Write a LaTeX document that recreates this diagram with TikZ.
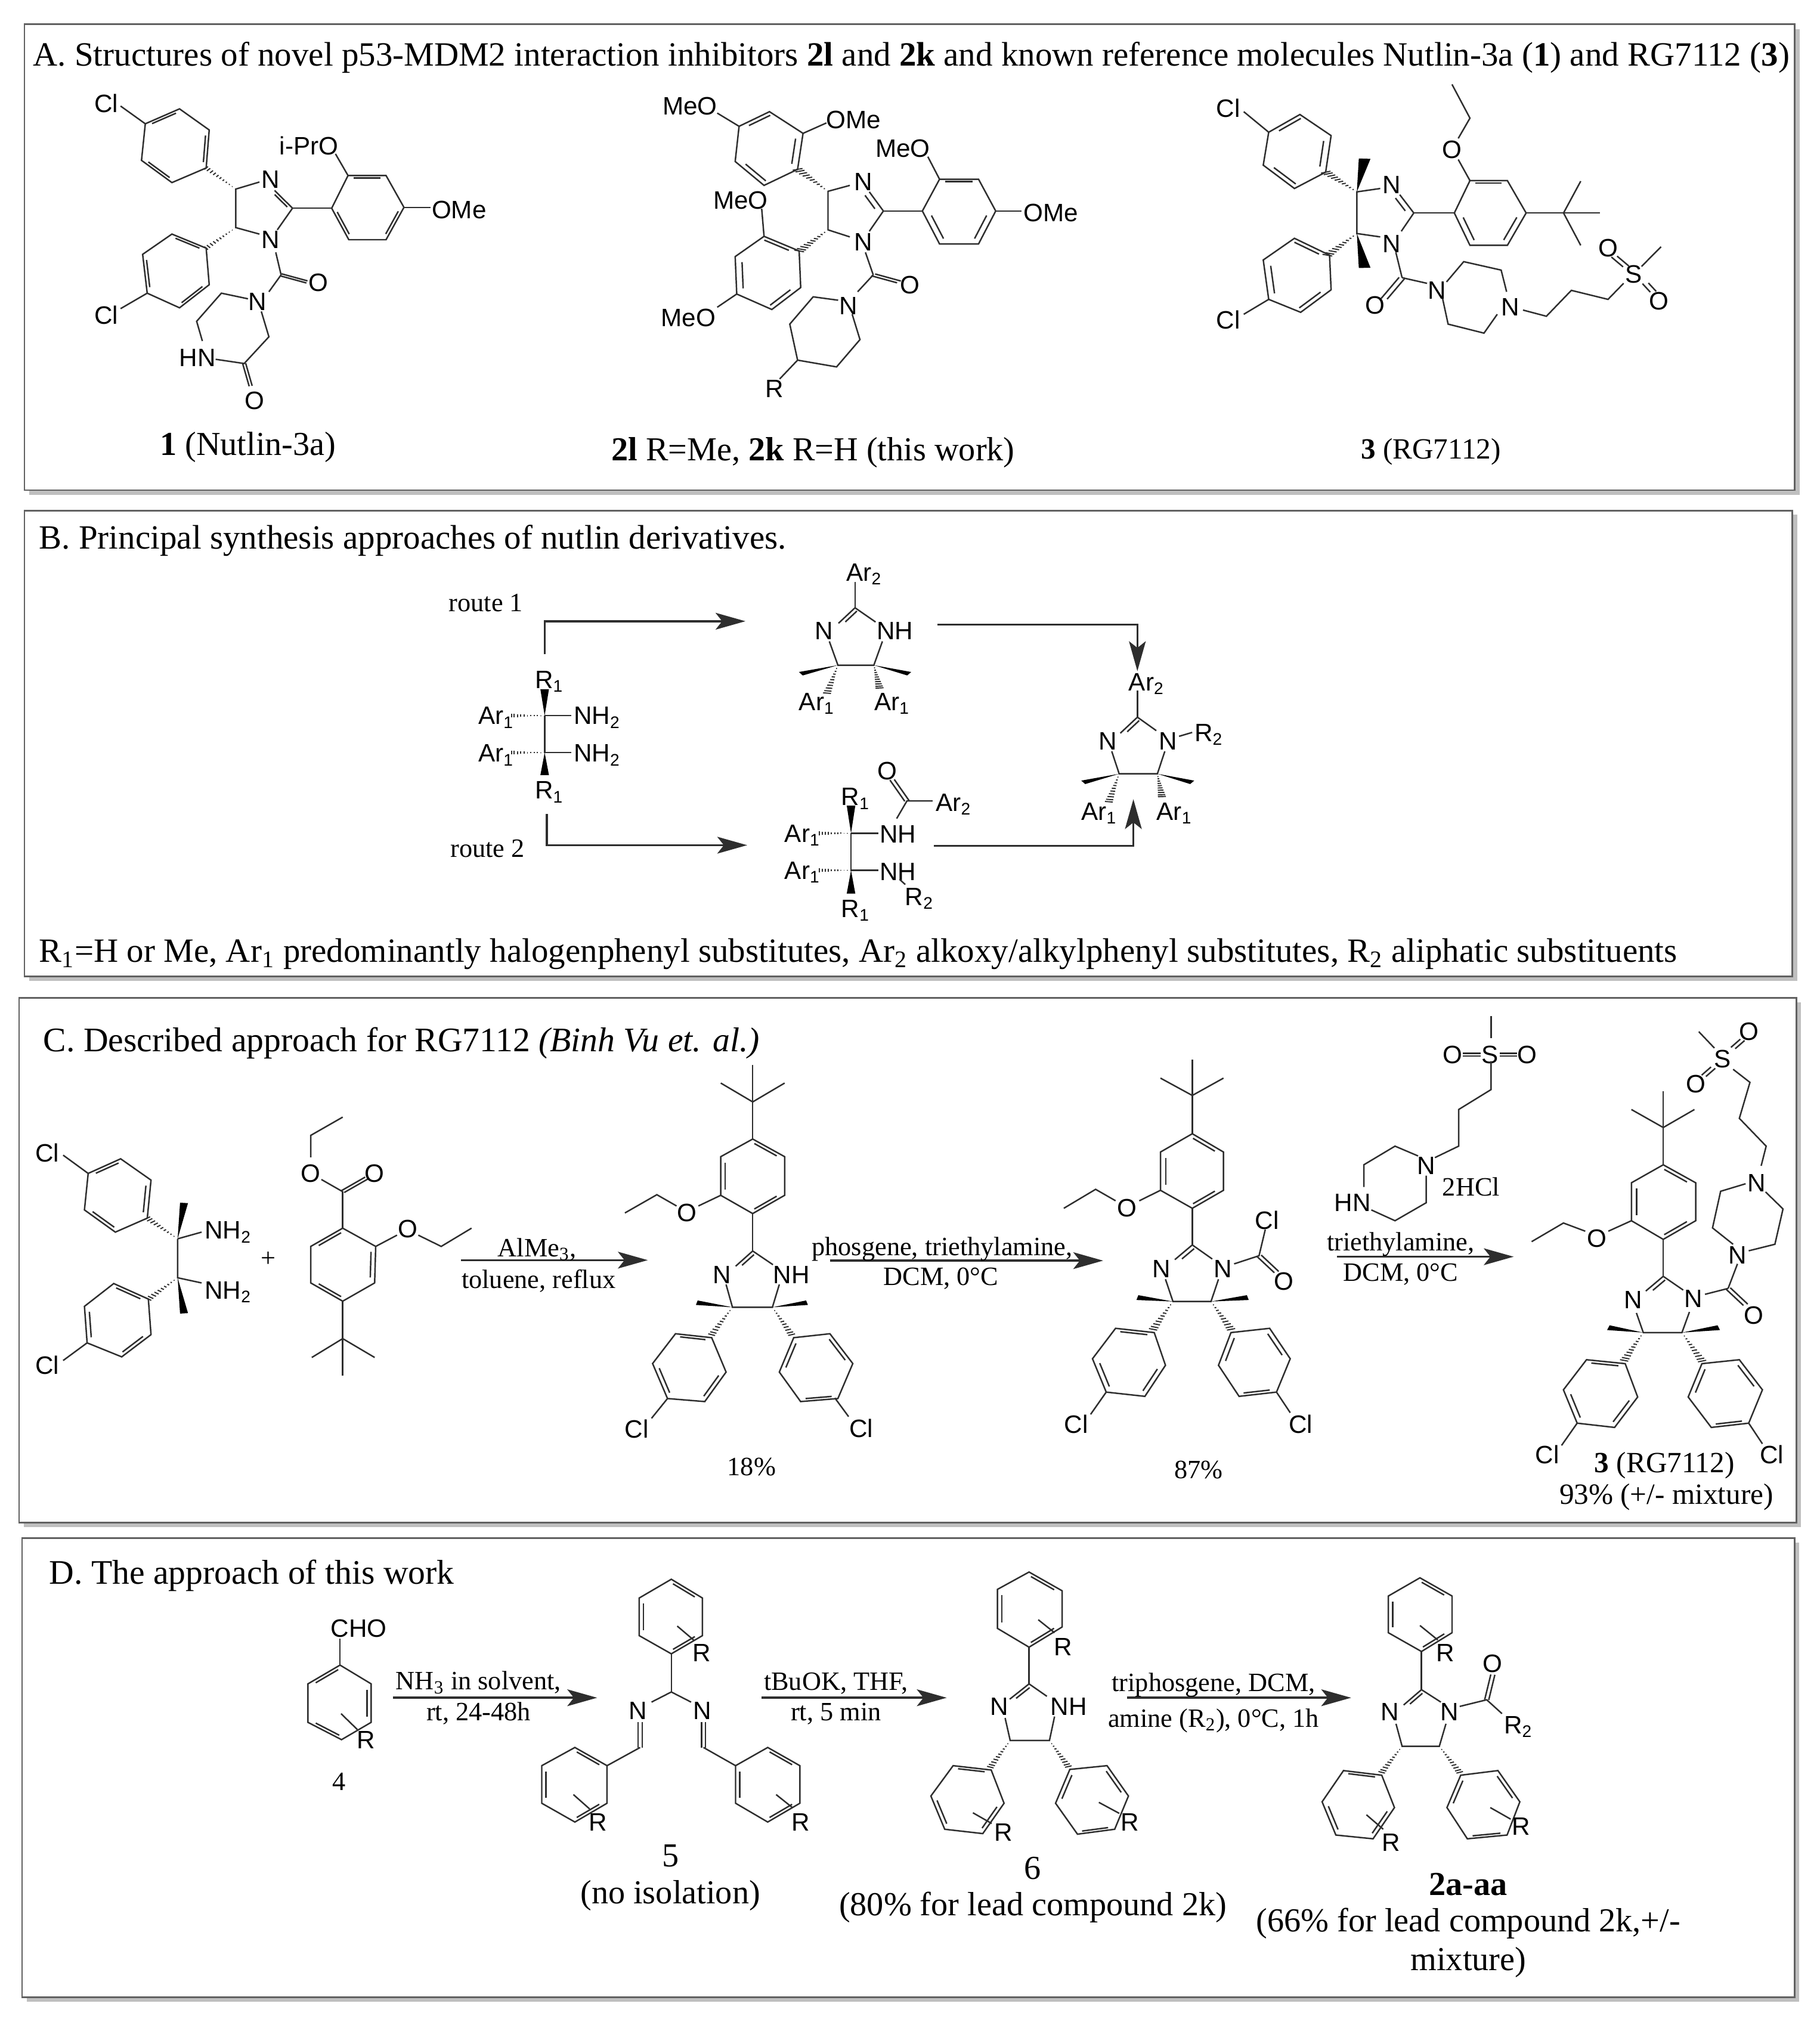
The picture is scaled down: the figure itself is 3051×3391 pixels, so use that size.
\documentclass[tikz,border=0pt]{standalone}
\usepackage{fontspec}
\setmainfont{Liberation Serif}
\setsansfont{Liberation Sans}
\usetikzlibrary{calc,arrows.meta}
\newcounter{nn}
\definecolor{ink}{gray}{0.18}
\tikzset{
 bond/.style={draw=ink,line width=0.7pt,line join=miter},
 hatchline/.style={draw=ink,line width=0.55pt},
 atom/.style={inner sep=0pt,text=black,font=\sffamily\fontsize{12}{14}\selectfont},
 smalltxt/.style={inner sep=0pt,text=black,font=\fontsize{12.6}{15}\selectfont},
 captxt/.style={inner sep=0pt,text=black,font=\fontsize{16}{19}\selectfont},
 midtxt/.style={inner sep=0pt,text=black,font=\fontsize{14}{17}\selectfont},
 titletxt/.style={inner sep=0pt,anchor=west,text=black,font=\fontsize{16.2}{19}\selectfont},
 titlewide/.style={inner sep=0pt,anchor=west,text=black,font=\fontsize{16.4}{19}\selectfont},
 rxn/.style={draw=ink,line width=1pt,-{Stealth[length=0.5cm,width=0.28cm,inset=0.11cm]}},
 panel/.style={draw=black!62,line width=0.85pt,fill=white},
 panelshadow/.style={fill=black!25},
 zA/.style={shift={(30,100)},xscale=0.6378,yscale=0.4719},
 zB/.style={shift={(1000,100)},xscale=1.308,yscale=0.4719},
 zC/.style={shift={(700,900)},xscale=0.9567,yscale=0.4337},
 zD/.style={shift={(30,1700)},xscale=0.8929,yscale=0.5102},
 zE/.style={shift={(1400,1700)},xscale=1.046,yscale=0.5485},
 zF/.style={shift={(450,2600)},xscale=0.8291,yscale=0.4847},
 zG/.style={shift={(1700,2600)},xscale=0.8546,yscale=0.4847},
}
\newcommand{\atm}[2]{\stepcounter{nn}\node[atom] (a\thenn) at (#1) {#2};}
\newcommand{\tx}[3]{\stepcounter{nn}\node[#1] (t\thenn) at (#2) {#3};}
\newcommand{\inr}[2]{\draw[bond] ($($(#1)!.15!(#2)$)!0.085cm!-90:(#2)$) -- ($($(#2)!.15!(#1)$)!0.085cm!90:(#1)$);}
\newcommand{\dbl}[2]{\draw[bond] (#1)--(#2);\inr{#1}{#2}}
\newcommand{\dbc}[2]{\draw[bond] ($(#1)!0.04cm!-90:(#2)$) -- ($(#2)!0.04cm!90:(#1)$);\draw[bond] ($(#1)!0.04cm!90:(#2)$) -- ($(#2)!0.04cm!-90:(#1)$);}
\newcommand{\benz}[6]{\draw[bond] (#1)--(#2)--(#3)--(#4)--(#5)--(#6)--cycle;\inr{#1}{#2}\inr{#3}{#4}\inr{#5}{#6}}
\newcommand{\wed}[2]{\fill[black] ($(#2)!0.075cm!90:(#1)$) -- (#1) -- ($(#2)!0.075cm!-90:(#1)$) -- cycle;}
\newcommand{\hsh}[2]{\coordinate (hA) at ($(#2)!0.07cm!90:(#1)$);\coordinate (hB) at ($(#2)!0.07cm!-90:(#1)$);
 \foreach \t in {.12,.22,.32,.42,.52,.62,.72,.82,.92,1}{\draw[hatchline] ($(#1)!\t!(hA)$) -- ($(#1)!\t!(hB)$);}}
\newcommand{\arw}[3]{\coordinate (#1a) at (#2);\coordinate (#1b) at (#3);\draw[rxn] (#1a) -- (#1b);}
\begin{document}
\begin{tikzpicture}[x=0.01cm,y=-0.01cm]
\useasboundingbox (0,0) rectangle (3051,3391);
\fill[white] (0,0) rectangle (3051,3391);
% panels
\fill[panelshadow] (49,49) rectangle (3018,830);
\fill[panelshadow] (49,863) rectangle (3014,1645);
\fill[panelshadow] (40,1681) rectangle (3020,2561);
\fill[panelshadow] (45,2587) rectangle (3017,3357);
\draw[panel] (41,41) rectangle (3009,822);
\draw[panel] (41,856) rectangle (3005,1637);
\draw[panel] (32,1673) rectangle (3012,2553);
\draw[panel] (37,2579) rectangle (3009,3349);
% titles
\tx{titletxt}{55,97}{A. Structures of novel p53-MDM2 interaction inhibitors \textbf{2l} and \textbf{2k} and known reference molecules Nutlin-3a (\textbf{1}) and RG7112 (\textbf{3})}
\tx{titletxt}{65,907}{B. Principal synthesis approaches of nutlin derivatives.}
\tx{titletxt}{65,1600}{R\textsubscript{1}=H or Me, Ar\textsubscript{1} predominantly halogenphenyl substitutes, Ar\textsubscript{2} alkoxy/alkylphenyl substitutes, R\textsubscript{2} aliphatic substituents}
\tx{titlewide}{72,1749}{C. Described approach for RG7112 \textit{(Binh Vu et. al.)}}
\tx{titlewide}{82,2642}{D. The approach of this work}

% ---- molecule 1
\begin{scope}[zA]
\atm{232,155}{Cl}\draw[bond] (270,165)--(335,228);
\benz{335,228}{425,175}{503,250}{495,385}{405,437}{325,358}
\hsh{573,460}{495,385}
\draw[bond] (635,435)--(573,460)--(573,597)--(635,620);
\atm{665,425}{N}\atm{665,640}{N}
\dbl{675,465}{722,528}
\draw[bond] (722,528)--(682,605);
\hsh{573,597}{495,670}
\benz{405,620}{495,670}{503,800}{425,882}{340,830}{328,692}
\draw[bond] (340,830)--(270,885);\atm{232,908}{Cl}
\draw[bond] (722,528)--(825,528);
\benz{868,412}{968,412}{1015,525}{968,640}{870,640}{825,528}
\atm{765,305}{i-PrO}\draw[bond] (868,412)--(835,335);
\draw[bond] (1015,525)--(1085,525);\atm{1160,533}{OMe}
\draw[bond] (678,685)--(692,765);
\dbc{692,765}{760,790}\atm{790,792}{O}
\draw[bond] (692,765)--(660,825);\atm{630,860}{N}
\draw[bond] (605,850)--(535,830)--(470,930)--(485,1000);
\atm{472,1060}{HN}
\draw[bond] (520,1065)--(595,1080)--(660,985)--(640,895);
\dbc{595,1080}{612,1160}\atm{622,1212}{O}
\tx{captxt}{605,1378}{\textbf{1} (Nutlin-3a)}
\end{scope}

% ---- molecule 2
\begin{scope}[zB]
\atm{120,165}{MeO}\draw[bond] (155,190)--(183,237);
\benz{183,237}{222,185}{265,262}{258,390}{215,447}{178,362}
\draw[bond] (265,262)--(295,225);\atm{330,215}{OMe}
\hsh{297,468}{258,390}
\draw[bond] (325,447)--(297,468)--(297,605)--(325,630);
\atm{342,435}{N}\atm{342,648}{N}
\dbl{350,470}{368,538}
\draw[bond] (368,538)--(350,610);
\hsh{297,605}{260,680}
\benz{215,628}{260,680}{262,810}{225,888}{180,833}{178,700}
\atm{185,500}{MeO}\draw[bond] (215,628)--(212,530);
\atm{118,918}{MeO}\draw[bond] (180,833)--(155,880);
\draw[bond] (368,538)--(418,538);
\benz{440,425}{490,425}{512,538}{490,655}{440,655}{418,538}
\atm{393,315}{MeO}\draw[bond] (440,425)--(425,345);
\draw[bond] (512,538)--(545,538);\atm{583,545}{OMe}
\draw[bond] (345,685)--(355,765);
\dbc{355,765}{388,790}\atm{402,800}{O}
\draw[bond] (355,765)--(335,825);\atm{323,875}{N}
\draw[bond] (310,855)--(278,843)--(248,940)--(258,1068)--(308,1092)--(338,995)--(328,905);
\draw[bond] (258,1068)--(235,1135);\atm{228,1170}{R}
\tx{captxt}{278,1396}{\textbf{2l} R=Me, \textbf{2k} R=H (this work)}
\end{scope}

% ---- molecule 3
\begin{scope}[zB]
\atm{810,172}{Cl}\draw[bond] (830,185)--(862,258);
\benz{862,258}{902,195}{942,270}{935,400}{895,458}{855,375}
\hsh{975,470}{935,400}\wed{975,470}{985,352}
\draw[bond] (1005,458)--(975,470)--(975,618)--(1005,630);
\atm{1020,445}{N}\atm{1020,655}{N}
\dbl{1030,480}{1048,545}
\draw[bond] (1048,545)--(1032,610);
\hsh{975,618}{937,695}\wed{975,618}{985,740}
\benz{895,635}{940,695}{942,818}{903,898}{862,852}{855,712}
\atm{810,925}{Cl}\draw[bond] (862,852)--(830,905);
\draw[bond] (1048,545)--(1100,545);
\benz{1120,430}{1168,430}{1192,545}{1168,660}{1120,660}{1100,545}
\atm{1097,320}{O}\draw[bond] (1120,430)--(1105,355);
\draw[bond] (1105,280)--(1120,208)--(1097,88);
\draw[bond] (1192,545)--(1287,545);
\draw[bond] (1262,432)--(1240,545)--(1262,660);
\draw[bond] (1025,685)--(1033,775);
\dbc{1033,775}{1010,850}\atm{998,872}{O}
\draw[bond] (1033,775)--(1065,795);\atm{1078,820}{N}
\draw[bond] (1090,790)--(1112,718)--(1160,748)--(1167,825);
\atm{1172,880}{N}
\draw[bond] (1155,905)--(1138,972)--(1092,940)--(1085,850);
\draw[bond] (1188,890)--(1218,912)--(1250,820)--(1297,852)--(1317,795);
\atm{1330,762}{S}
\dbc{1320,735}{1305,700}\atm{1297,670}{O}
\draw[bond] (1340,735)--(1365,665);
\dbc{1345,795}{1355,825}\atm{1362,858}{O}
\tx{midtxt}{1070,1393}{\textbf{3} (RG7112)}
\end{scope}

% ---- panel B
\begin{scope}[zC]
\tx{smalltxt}{120,255}{route 1}
\tx{smalltxt}{123,1205}{route 2}
\coordinate (ra) at (223,455);\coordinate (rb) at (575,327);
\draw[rxn] (ra) |- (rb);
\coordinate (rc) at (227,1073);\coordinate (rd) at (578,1193);
\draw[rxn] (rc) |- (rd);
\coordinate (re) at (912,340);\coordinate (rf) at (1262,520);
\draw[rxn] (re) -| (rf);
\coordinate (rg) at (905,1195);\coordinate (rh) at (1255,1015);
\draw[rxn] (rg) -| (rh);
% imidazoline top
\atm{783,145}{Ar\textsubscript{2}}
\draw[bond] (767,175)--(767,275);
\dbl{738,335}{767,275}
\draw[bond] (767,275)--(803,330);
\atm{713,365}{N}\atm{837,365}{NH}
\draw[bond] (722,405)--(737,497)--(800,497)--(815,405);
\wed{737,497}{672,530}\wed{800,497}{862,530}
\hsh{737,497}{718,605}\hsh{800,497}{810,585}
\atm{700,645}{Ar\textsubscript{1}}\atm{832,645}{Ar\textsubscript{1}}
% diamine left
\atm{231,560}{R\textsubscript{1}}
\wed{223,692}{223,590}
\draw[bond] (223,692)--(270,692);\atm{315,700}{NH\textsubscript{2}}
\hsh{223,692}{165,692}\atm{138,700}{Ar\textsubscript{1}}
\draw[bond] (223,692)--(223,835)--(270,835);\atm{315,845}{NH\textsubscript{2}}
\hsh{223,835}{165,835}\atm{138,845}{Ar\textsubscript{1}}
\wed{223,835}{223,922}\atm{231,988}{R\textsubscript{1}}
% amide bottom
\atm{768,1013}{R\textsubscript{1}}
\wed{760,1147}{760,1040}
\hsh{760,1147}{705,1147}\atm{675,1155}{Ar\textsubscript{1}}
\draw[bond] (760,1147)--(808,1147);\atm{842,1150}{NH}
\draw[bond] (760,1147)--(760,1290)--(808,1290);\atm{842,1295}{NH}
\hsh{760,1290}{705,1290}\atm{675,1298}{Ar\textsubscript{1}}
\wed{760,1290}{760,1380}\atm{768,1445}{R\textsubscript{1}}
\draw[bond] (845,1325)--(855,1345);\atm{880,1400}{R\textsubscript{2}}
\draw[bond] (840,1090)--(858,1022)--(903,1022);
\dbc{858,1022}{832,940}\atm{824,905}{O}\atm{940,1035}{Ar\textsubscript{2}}
% product right
\atm{1278,570}{Ar\textsubscript{2}}
\draw[bond] (1262,595)--(1262,698);
\dbl{1232,760}{1262,698}
\draw[bond] (1262,698)--(1295,750);
\atm{1210,790}{N}\atm{1316,790}{N}
\draw[bond] (1335,772)--(1358,757);\atm{1387,765}{R\textsubscript{2}}
\draw[bond] (1217,830)--(1230,917)--(1297,917)--(1310,830);
\wed{1230,917}{1167,950}\wed{1297,917}{1358,950}
\hsh{1230,917}{1212,1025}\hsh{1297,917}{1305,1005}
\atm{1195,1070}{Ar\textsubscript{1}}\atm{1327,1070}{Ar\textsubscript{1}}
\end{scope}

% ---- panel C left
\begin{scope}[zD]
\atm{55,458}{Cl}\draw[bond] (85,465)--(132,525);
\benz{132,525}{193,477}{250,547}{243,672}{183,718}{125,645}
\hsh{300,740}{243,672}\wed{300,740}{312,622}
\draw[bond] (300,740)--(345,718);\atm{395,718}{NH\textsubscript{2}}
\draw[bond] (300,740)--(300,868)--(345,885);\atm{395,915}{NH\textsubscript{2}}
\hsh{300,868}{245,938}\wed{300,868}{312,985}
\benz{180,887}{245,938}{250,1055}{195,1128}{130,1082}{125,962}
\atm{55,1155}{Cl}\draw[bond] (130,1082)--(85,1140);
\tx{smalltxt}{470,808}{+}
\draw[bond] (610,340)--(550,400)--(550,472);
\atm{550,525}{O}
\draw[bond] (570,545)--(610,585);
\dbc{610,585}{655,540}\atm{670,525}{O}
\draw[bond] (610,585)--(610,705);
\benz{550,765}{610,705}{672,765}{670,885}{610,945}{550,885}
\atm{732,708}{O}\draw[bond] (672,765)--(712,728);
\draw[bond] (752,728)--(795,765)--(852,705);
\draw[bond] (610,945)--(610,1190);
\draw[bond] (552,1130)--(610,1068)--(670,1130);
\arw{c1}{832,810}{1183,810}
\tx{smalltxt}{975,775}{AlMe\textsubscript{3},}
\tx{smalltxt}{978,878}{toluene, reflux}
% product 18%
\draw[bond] (1380,168)--(1380,412);
\draw[bond] (1320,228)--(1380,290)--(1440,228);
\benz{1380,412}{1440,470}{1440,597}{1380,657}{1320,597}{1320,470}
\draw[bond] (1320,597)--(1278,632);\atm{1257,655}{O}
\draw[bond] (1237,632)--(1200,595)--(1140,655);
\draw[bond] (1380,657)--(1380,780);
\dbl{1348,830}{1380,780}
\draw[bond] (1380,780)--(1418,825);
\atm{1322,858}{N}\atm{1453,858}{NH}
\draw[bond] (1330,890)--(1342,965)--(1417,965)--(1430,890);
\wed{1342,965}{1275,950}\wed{1417,965}{1482,950}
\hsh{1342,965}{1303,1055}\hsh{1417,965}{1453,1055}
\benz{1235,1052}{1303,1065}{1330,1178}{1290,1275}{1220,1265}{1192,1150}
\draw[bond] (1220,1265)--(1190,1330);\atm{1162,1365}{Cl}
\benz{1525,1052}{1568,1150}{1540,1265}{1470,1275}{1430,1178}{1457,1065}
\tx{smalltxt}{1378,1490}{18\%}
\end{scope}

% ---- panel C right
\begin{scope}[zE]
\draw[bond] (0,1175)--(22,1232);\atm{42,1268}{Cl}
\arw{c2}{-8,755}{430,755}
\tx{smalltxt}{172,720}{phosgene, triethylamine,}
\tx{smalltxt}{170,810}{DCM, 0°C}
% 87%
\draw[bond] (573,140)--(573,367);
\draw[bond] (522,197)--(573,250)--(623,197);
\benz{573,367}{623,423}{623,540}{573,595}{522,540}{522,423}
\draw[bond] (522,540)--(488,572);\atm{468,595}{O}
\draw[bond] (450,572)--(418,537)--(367,595);
\draw[bond] (573,595)--(573,707);
\dbl{545,752}{573,707}
\draw[bond] (573,707)--(605,750);
\atm{524,780}{N}\atm{622,780}{N}
\draw[bond] (640,765)--(680,740)--(690,660);\atm{693,632}{Cl}
\dbc{680,740}{708,790}\atm{720,818}{O}
\draw[bond] (530,812)--(542,880)--(603,880)--(615,812);
\wed{542,880}{485,868}\wed{603,880}{662,868}
\hsh{542,880}{510,965}\hsh{603,880}{635,965}
\benz{450,962}{512,975}{530,1075}{497,1170}{435,1157}{413,1055}
\draw[bond] (435,1157)--(410,1225);\atm{387,1255}{Cl}
\benz{697,962}{730,1055}{708,1157}{648,1170}{615,1075}{635,975}
\draw[bond] (708,1157)--(730,1220);\atm{747,1255}{Cl}
\tx{smalltxt}{583,1395}{87\%}
% amine
\draw[bond] (1052,8)--(1052,75);
\atm{1050,125}{S}\atm{990,125}{O}\atm{1110,125}{O}
\dbc{1007,125}{1035,125}\dbc{1066,125}{1094,125}
\draw[bond] (1052,145)--(1052,232)--(1000,293)--(1000,405)--(962,440);
\atm{948,465}{N}
\draw[bond] (935,435)--(898,405)--(848,462)--(848,530);
\atm{830,578}{HN}
\draw[bond] (860,600)--(898,633)--(948,578)--(948,495);
\tx{smalltxt}{1020,530}{2HCl}
\arw{c3}{805,743}{1088,743}
\tx{smalltxt}{907,705}{triethylamine,}
\tx{smalltxt}{907,797}{DCM, 0°C}
% RG7112 product
\atm{1423,138}{S}\atm{1465,55}{O}\atm{1380,215}{O}
\draw[bond] (1385,55)--(1410,105);
\dbc{1440,105}{1455,80}\dbc{1408,165}{1393,190}
\draw[bond] (1440,170)--(1467,210)--(1450,320)--(1493,405)--(1485,465);
\atm{1478,517}{N}
\draw[bond] (1460,520)--(1420,543)--(1407,655)--(1440,705);
\atm{1447,738}{N}
\draw[bond] (1465,725)--(1507,705)--(1520,597)--(1492,545);
\draw[bond] (1447,765)--(1432,840);
\dbc{1432,840}{1460,890}\atm{1473,922}{O}
\atm{1376,872}{N}\draw[bond] (1395,858)--(1432,840);
\draw[bond] (1328,237)--(1328,462);
\draw[bond] (1277,293)--(1328,348)--(1378,293);
\benz{1328,462}{1380,517}{1380,633}{1328,690}{1277,633}{1277,517}
\draw[bond] (1277,633)--(1240,665);\atm{1222,688}{O}
\draw[bond] (1203,665)--(1168,640)--(1117,697);
\draw[bond] (1328,690)--(1328,803);
\dbl{1300,848}{1328,803}
\draw[bond] (1328,803)--(1360,845);
\atm{1280,875}{N}
\draw[bond] (1285,915)--(1296,975)--(1358,975)--(1370,912);
\wed{1296,975}{1240,960}\wed{1358,975}{1417,960}
\hsh{1296,975}{1265,1060}\hsh{1358,975}{1390,1062}
\benz{1205,1058}{1267,1070}{1287,1172}{1250,1265}{1190,1252}{1168,1150}
\draw[bond] (1190,1252)--(1165,1320);\atm{1142,1348}{Cl}
\benz{1450,1058}{1487,1150}{1465,1252}{1405,1265}{1368,1172}{1390,1070}
\draw[bond] (1465,1252)--(1487,1315);\atm{1502,1348}{Cl}
\tx{midtxt}{1330,1382}{\textbf{3} (RG7112)}
\tx{midtxt}{1333,1478}{93\% (+/- mixture)}
\end{scope}

% ---- panel D left
\begin{scope}[zF]
\atm{183,270}{CHO}\draw[bond] (145,305)--(145,397);
\benz{80,462}{145,397}{208,462}{208,595}{148,655}{80,595}
\draw[bond] (147,565)--(180,620);\atm{197,655}{R}
\tx{smalltxt}{143,800}{4}
\arw{d1}{252,510}{665,510}
\tx{smalltxt}{425,458}{NH\textsubscript{3} in solvent,}
\tx{smalltxt}{425,565}{rt, 24-48h}
\benz{815,100}{878,165}{878,295}{815,358}{750,295}{750,165}
\draw[bond] (827,262)--(860,310);\atm{877,355}{R}
\draw[bond] (815,358)--(815,490);
\draw[bond] (775,525)--(815,490)--(855,525);
\atm{748,555}{N}\atm{878,555}{N}
\dbc{752,595}{752,682}\dbc{880,595}{880,682}
\draw[bond] (752,682)--(685,745);
\draw[bond] (880,682)--(945,745);
\benz{620,682}{685,745}{685,875}{620,940}{553,875}{553,745}
\draw[bond] (617,845)--(650,895);\atm{667,940}{R}
\benz{1010,682}{1075,745}{1075,875}{1010,940}{945,875}{945,745}
\draw[bond] (1027,845)--(1060,890);\atm{1077,940}{R}
\tx{captxt}{813,1058}{5}
\tx{captxt}{813,1195}{(no isolation)}
\arw{d2}{998,510}{1372,510}
\tx{smalltxt}{1148,460}{tBuOK, THF,}
\tx{smalltxt}{1148,565}{rt, 5 min}
\benz{1385,745}{1462,760}{1488,875}{1445,980}{1368,965}{1340,850}
\draw[bond] (1425,908)--(1463,945);\atm{1487,975}{R}
\end{scope}

% ---- panel D right
\begin{scope}[zG]
\benz{30,75}{95,140}{95,265}{30,335}{-32,270}{-32,135}
\draw[bond] (48,240)--(80,285);\atm{97,335}{R}
\draw[bond] (30,335)--(30,462);
\dbl{-8,515}{30,462}
\draw[bond] (30,462)--(65,505);
\atm{-29,540}{N}\atm{108,540}{NH}
\draw[bond] (-17,580)--(-7,658)--(70,658)--(80,575);
\hsh{-7,658}{-46,750}\hsh{70,658}{107,748}
\benz{183,745}{225,850}{198,965}{125,982}{82,875}{110,758}
\draw[bond] (167,872)--(207,910);\atm{228,940}{R}
\tx{captxt}{37,1100}{6}
\arw{d3}{222,510}{662,510}
\tx{smalltxt}{392,465}{triphosgene, DCM,}
\tx{smalltxt}{392,590}{amine (R\textsubscript{2}), 0°C, 1h}
\benz{797,95}{860,158}{860,285}{800,350}{735,285}{735,158}
\draw[bond] (797,260)--(832,310);\atm{847,355}{R}
\draw[bond] (800,350)--(800,482);
\dbl{765,535}{800,482}
\draw[bond] (800,482)--(838,525);
\atm{738,560}{N}\atm{855,560}{N}
\draw[bond] (875,540)--(928,517)--(958,565);
\dbc{928,517}{940,430}\atm{940,392}{O}
\atm{990,610}{R\textsubscript{2}}
\draw[bond] (750,600)--(762,678)--(835,678)--(848,600);
\hsh{762,678}{722,768}\hsh{835,678}{875,768}
\benz{647,762}{722,778}{747,890}{705,998}{632,985}{605,870}
\draw[bond] (692,915)--(725,965);\atm{740,1010}{R}
\benz{950,762}{993,870}{968,985}{890,998}{850,890}{877,778}
\draw[bond] (935,890)--(975,930);\atm{995,955}{R}
\tx{captxt}{892,1155}{\textbf{2a-aa}}
\tx{captxt}{892,1290}{(66\% for lead compound 2k,+/-}
\tx{captxt}{892,1425}{mixture)}
\end{scope}
\tx{captxt}{1732,3199}{(80\% for lead compound 2k)}
\end{tikzpicture}
\end{document}
